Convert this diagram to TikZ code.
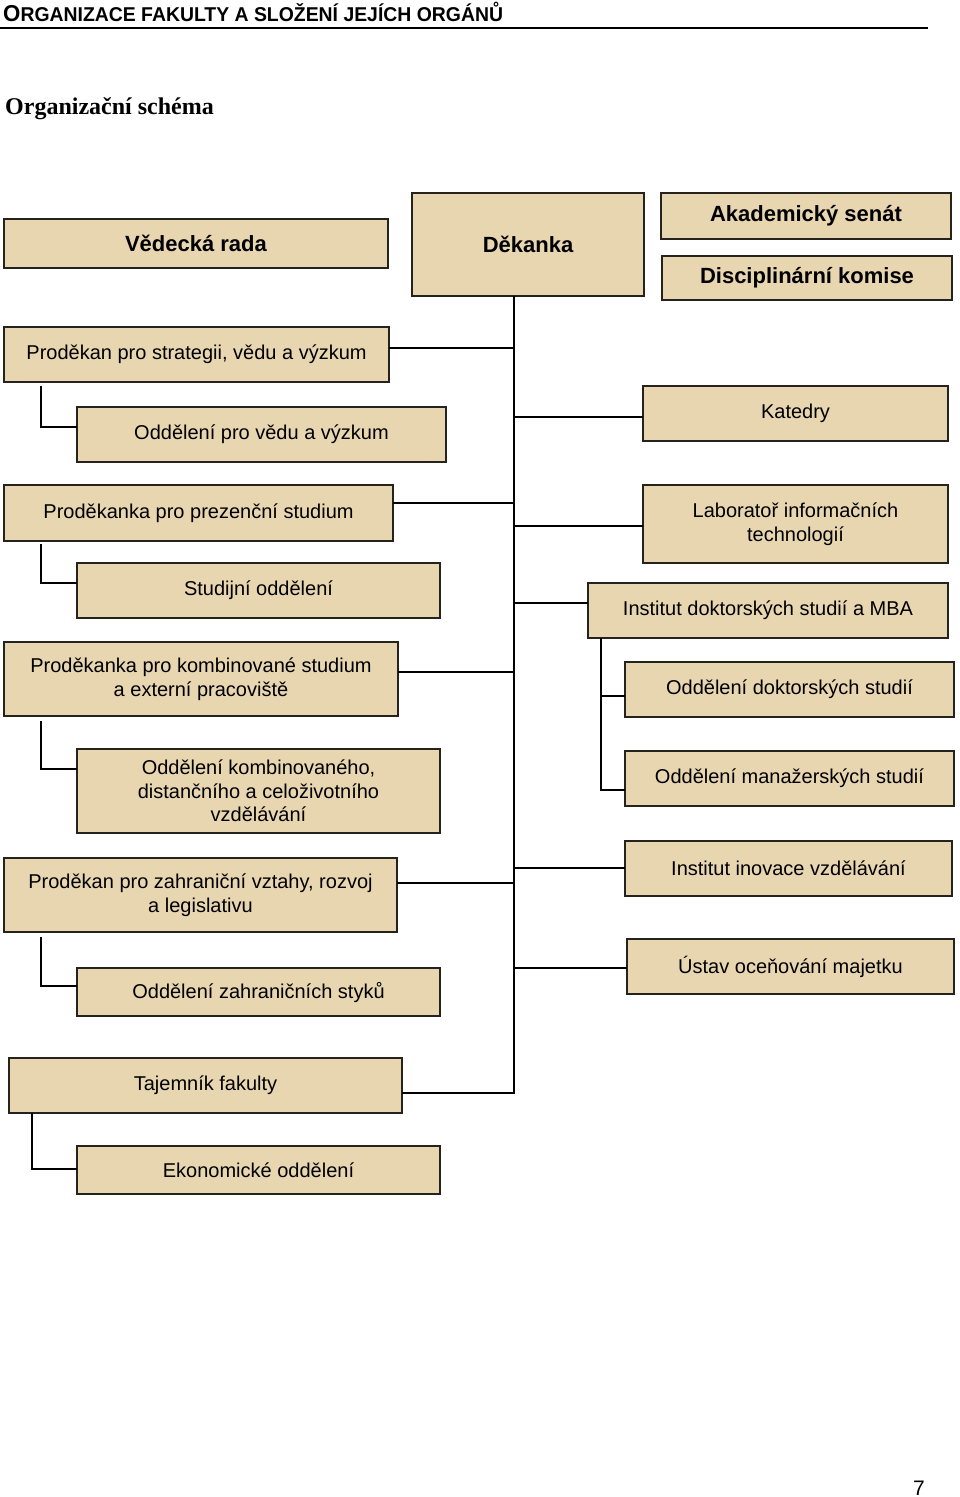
\documentclass[tikz,border=0pt]{standalone}
\usepackage{fontspec}
\setmainfont{Liberation Sans}
\newfontfamily\timesfont{Liberation Serif}
\usepackage{graphicx}
\definecolor{parch}{RGB}{232,214,177}
\definecolor{edge}{RGB}{38,34,30}

\begin{document}
\begin{tikzpicture}[x=1pt,y=-1pt,
    box/.style={draw=edge, line width=1.6pt, fill=parch, inner sep=0pt, outer sep=0pt, align=center, font=\fontsize{20}{23.5}\selectfont},
    head/.style={box, font=\fontsize{22}{26}\selectfont\bfseries},
    link/.style={line width=1.6pt}]
  \useasboundingbox (0,0) rectangle (960,1497);
  % page header
  \node[anchor=base west, inner sep=0pt] (ttl) at (3,21) {\bfseries\scalebox{0.97}[1]{\fontsize{23}{23}\selectfont O\fontsize{20}{20}\selectfont RGANIZACE FAKULTY A SLOŽENÍ JEJÍCH ORGÁNŮ}};
  \draw[line width=1.5pt] (0,28) -- (928,28);
  \node[anchor=base west, inner sep=0pt] (sch) at (5,114) {\timesfont\bfseries\fontsize{24}{24}\selectfont Organizační schéma};
  \node[anchor=base, inner sep=0pt] (pg) at (919,1495) {\fontsize{21}{21}\selectfont 7};
  %
  \node[head, minimum width=384, minimum height=49] (vr) at (196,243.5) {Vědecká rada};
  \node[head, minimum width=232, minimum height=103] (dek) at (528,244.5) {Děkanka};
  \node[head, minimum width=290, minimum height=46] (as) at (806,216) {Akademický senát};
  \node[head, minimum width=290, minimum height=44] (dk) at (807,278) {Disciplinární komise};
  % left column
  \node[box, minimum width=385, minimum height=55] (ps) at (196.5,354.5) {Proděkan pro strategii, vědu a výzkum};
  \node[box, minimum width=369, minimum height=55] (ov) at (261.5,434.5) {Oddělení pro vědu a výzkum};
  \node[box, minimum width=389, minimum height=56] (pp) at (198.5,513) {Proděkanka pro prezenční studium};
  \node[box, minimum width=363, minimum height=55] (so) at (258.5,590.5) {Studijní oddělení};
  \node[box, minimum width=394, minimum height=74] (pk) at (201,679) {Proděkanka pro kombinované studium\\a externí pracoviště};
  \node[box, minimum width=363, minimum height=84] (okd) at (258.5,791) {Oddělení kombinovaného,\\distančního a celoživotního\\vzdělávání};
  \node[box, minimum width=393, minimum height=74] (pz) at (200.5,895) {Proděkan pro zahraniční vztahy, rozvoj\\a legislativu};
  \node[box, minimum width=363, minimum height=48] (ozs) at (258.5,992) {Oddělení zahraničních styků};
  \node[box, minimum width=393, minimum height=55] (taj) at (205.5,1085.5) {Tajemník fakulty};
  \node[box, minimum width=363, minimum height=48] (eko) at (258.5,1170) {Ekonomické oddělení};
  % right column
  \node[box, minimum width=305, minimum height=55] (kat) at (795.5,413.5) {Katedry};
  \node[box, minimum width=305, minimum height=78] (lab) at (795.5,524) {Laboratoř informačních\\technologií};
  \node[box, minimum width=360, minimum height=55] (ids) at (768,610.5) {Institut doktorských studií a MBA};
  \node[box, minimum width=329, minimum height=55] (ods) at (789.5,689.5) {Oddělení doktorských studií};
  \node[box, minimum width=329, minimum height=55] (oms) at (789.5,778.5) {Oddělení manažerských studií};
  \node[box, minimum width=327, minimum height=55] (iiv) at (788.5,868.5) {Institut inovace vzdělávání};
  \node[box, minimum width=327, minimum height=55] (uom) at (790.5,966.5) {Ústav oceňování majetku};
  %
  \coordinate (t1) at (514,1094);
  \draw[link] (dek.south -| t1) -- (t1);
  \draw[link] ([yshift=6.5]ps.east) -- ([yshift=6.5]ps.east -| t1);
  \draw[link] ([yshift=10]pp.east) -- ([yshift=10]pp.east -| t1);
  \draw[link] ([yshift=7]pk.east) -- ([yshift=7]pk.east -| t1);
  \draw[link] ([yshift=12]pz.east) -- ([yshift=12]pz.east -| t1);
  \draw[link] ([yshift=-7.5]taj.east) -- ([yshift=-7.5]taj.east -| t1);
  \draw[link] ([yshift=-3.5]kat.west -| t1) -- ([yshift=-3.5]kat.west);
  \draw[link] ([yshift=-2]lab.west -| t1) -- ([yshift=-2]lab.west);
  \draw[link] ([yshift=7.5]ids.west -| t1) -- ([yshift=7.5]ids.west);
  \draw[link] ([yshift=0.5]iiv.west -| t1) -- ([yshift=0.5]iiv.west);
  \draw[link] ([yshift=-1.5]uom.west -| t1) -- ([yshift=-1.5]uom.west);
  % sub units
  \draw[link] ([xshift=37]ps.south west) ++(0,4) |- ([yshift=7.5]ov.west);
  \draw[link] ([xshift=37]pp.south west) ++(0,3) |- ([yshift=7.5]so.west);
  \draw[link] ([xshift=37]pk.south west) ++(0,5) |- ([yshift=22]okd.west);
  \draw[link] ([xshift=37]pz.south west) ++(0,5) |- ([yshift=6]ozs.west);
  \draw[link] ([xshift=23]taj.south west) |- ([yshift=1]eko.west);
  \draw[link] ([xshift=13]ids.south west) |- ([yshift=-6.5]ods.west);
  \draw[link] ([xshift=13]ids.south west) |- ([yshift=-11.5]oms.west);
\end{tikzpicture}
\end{document}
